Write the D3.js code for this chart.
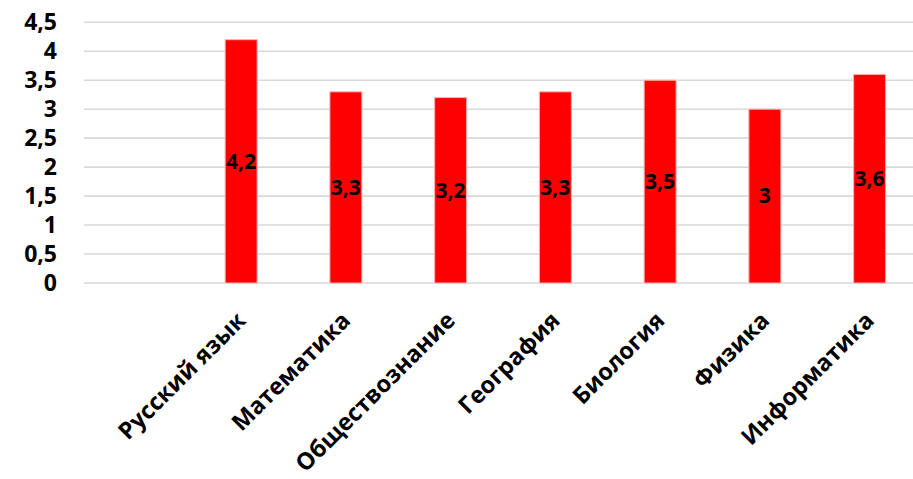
<!DOCTYPE html>
<html>
<head>
<meta charset="utf-8">
<script src="https://cdn.jsdelivr.net/npm/d3@7"></script>
<style>
  body { margin: 0; background: #fff; }
  svg { display: block; }
</style>
</head>
<body>
<div class="graph"></div>
<script>
// subjects (first slot is empty in the source sheet)
const categories = ["", "Русский язык", "Математика", "Обществознание", "География", "Биология", "Физика", "Информатика"];
const values = [null, 4.2, 3.3, 3.2, 3.3, 3.5, 3, 3.6];
const yTicks = [0, 0.5, 1, 1.5, 2, 2.5, 3, 3.5, 4, 4.5];

const WIDTH = 913,
      HEIGHT = 479;

const FONT = "'Open Sans', 'DejaVu Sans', sans-serif";
const fmt = v => String(v).replace(".", ",");

let svg = d3.select(".graph")
    .append("svg")
    .attr("width", WIDTH)
    .attr("height", HEIGHT);

let xScale = d3.scaleBand()
    .domain(categories)
    .range([84, 922])
    .paddingInner(0.695)
    .paddingOuter(0.3475);

let yScale = d3.scaleLinear().domain([0, 4.5]).range([283, 22.3]);

// gridlines
svg.append("g")
    .selectAll("line")
    .data(yTicks)
    .enter()
    .append("line")
    .attr("x1", 84)
    .attr("x2", WIDTH)
    .attr("y1", d => yScale(d))
    .attr("y2", d => yScale(d))
    .style("stroke", "#d9d9d9")
    .style("stroke-width", 1.6);

// y axis labels
svg.append("g")
    .attr("transform", "translate(57, 0)")
    .call(d3.axisLeft(yScale).tickValues(yTicks).tickSize(0).tickPadding(0).tickFormat(fmt))
    .call(g => g.select(".domain").remove())
    .call(g => g.selectAll("text")
        .attr("font-family", FONT)
        .attr("font-weight", "bold")
        .attr("font-size", 23)
        .style("fill", "#000"));

const data = categories.map((c, i) => ({ name: c, value: values[i] })).filter(d => d.value != null);

// bars
svg.append("g")
    .selectAll("rect")
    .data(data)
    .enter()
    .append("rect")
    .attr("x", d => xScale(d.name))
    .attr("width", xScale.bandwidth())
    .attr("y", d => yScale(d.value))
    .attr("height", d => yScale(0) - yScale(d.value))
    .style("fill", "#ff0000")
    .style("stroke", "#ffb0b0")
    .style("stroke-width", 1);

// value labels in the middle of each bar
svg.append("g")
    .selectAll("text")
    .data(data)
    .enter()
    .append("text")
    .attr("x", d => xScale(d.name) + xScale.bandwidth() / 2)
    .attr("y", d => (yScale(d.value) + yScale(0)) / 2)
    .attr("dy", "0.35em")
    .attr("text-anchor", "middle")
    .attr("font-family", FONT)
    .attr("font-weight", "bold")
    .attr("font-size", 21)
    .style("fill", "#000")
    .text(d => fmt(d.value));

// rotated category labels
svg.append("g")
    .selectAll("text")
    .data(data)
    .enter()
    .append("text")
    .attr("transform", d => `translate(${xScale(d.name) + xScale.bandwidth() / 2 + 6}, 322) rotate(-45)`)
    .attr("text-anchor", "end")
    .attr("font-family", FONT)
    .attr("font-weight", "bold")
    .attr("font-size", 23.5)
    .style("fill", "#000")
    .text(d => d.name);
</script>
</body>
</html>
